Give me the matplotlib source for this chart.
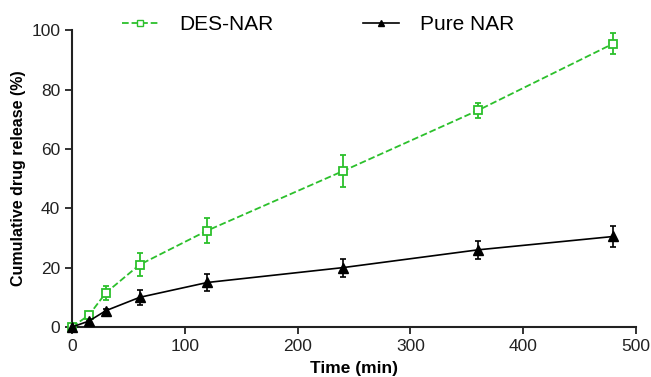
import matplotlib
matplotlib.use("Agg")
import matplotlib.pyplot as plt
from matplotlib.lines import Line2D

time_min = [0, 15, 30, 60, 120, 240, 360, 480]
des_nar = [0, 4.0, 11.5, 21.0, 32.5, 52.5, 73.0, 95.5]
des_nar_err = [0, 1.0, 2.3, 3.8, 4.2, 5.5, 2.5, 3.5]
pure_nar = [0, 2.0, 5.5, 10.0, 15.0, 20.0, 26.0, 30.5]
pure_nar_err = [0, 0.5, 0.6, 2.6, 2.8, 3.0, 3.0, 3.5]

GREEN = "#2cc02c"
plt.rcParams["font.family"] = ["Liberation Sans", "DejaVu Sans"]

fig = plt.figure(figsize=(6.51, 3.77), dpi=100)
ax = fig.add_axes([0.1106, 0.1326, 0.8664, 0.7874])

ax.errorbar(time_min, des_nar, yerr=des_nar_err, color=GREEN, linestyle="--",
            linewidth=1.3, marker="s", markersize=5.5, markerfacecolor="white",
            markeredgecolor=GREEN, markeredgewidth=1.3, capsize=2.2,
            elinewidth=1.3, capthick=1.3, clip_on=False, zorder=3)
ax.errorbar(time_min, pure_nar, yerr=pure_nar_err, color="black", linestyle="-",
            linewidth=1.2, marker="^", markersize=6.5, markerfacecolor="black",
            capsize=2.2, elinewidth=1.2, capthick=1.2, clip_on=False, zorder=3)

ax.set_xlim(0, 500)
ax.set_ylim(0, 100)
ax.set_xticks([0, 100, 200, 300, 400, 500])
ax.set_yticks([0, 20, 40, 60, 80, 100])
for side in ["top", "right"]:
    ax.spines[side].set_visible(False)
for side in ["left", "bottom"]:
    ax.spines[side].set_linewidth(1.5)
    ax.spines[side].set_color("#222222")
ax.tick_params(axis="both", labelsize=12.5, width=1.3, length=5,
               color="#222222", labelcolor="#222222")

ax.set_xlabel("Time (min)", fontsize=12.5, fontweight="bold", labelpad=5)
ax.set_ylabel("Cumulative drug release (%)", fontsize=11.5, fontweight="bold",
              labelpad=4)

handles = [
    Line2D([], [], color=GREEN, linestyle="--", linewidth=1.3, marker="s",
           markersize=4, markerfacecolor="white", markeredgecolor=GREEN),
    Line2D([], [], color="black", linestyle="-", linewidth=1.2, marker="^",
           markersize=5, markerfacecolor="black"),
]
ax.legend(handles, ["DES-NAR", "Pure NAR"], loc="center left",
          bbox_to_anchor=(0.07, 1.018), ncol=2, frameon=False, fontsize=15,
          borderpad=0, handlelength=1.75, columnspacing=4.3, handletextpad=1.0)

fig.savefig("out.png", dpi=100)
